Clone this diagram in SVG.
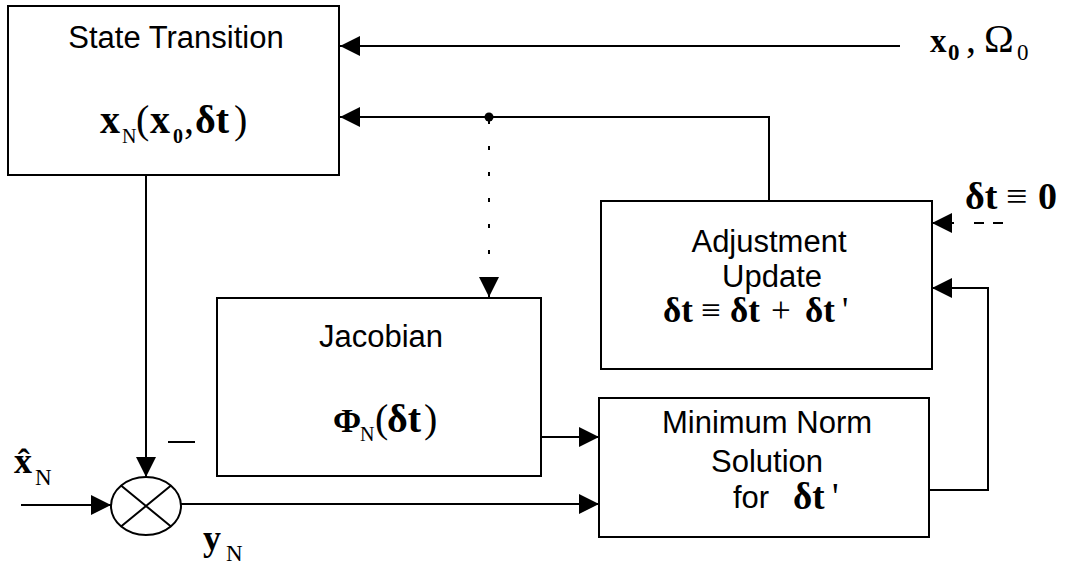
<svg xmlns="http://www.w3.org/2000/svg" width="1069" height="568" viewBox="0 0 1069 568">
<defs>
<style>
.box{fill:#fff;stroke:#000;stroke-width:2}
.ln{fill:none;stroke:#000;stroke-width:2}
.lbl{font-family:"Liberation Sans",Arial,sans-serif;font-size:31px;fill:#000;text-anchor:middle}
.m{font-family:"Liberation Serif","Times New Roman",serif;font-size:40px;fill:#000}
.b{font-weight:bold}
.s{font-size:20px}
</style>
<marker id="ah" viewBox="0 0 20 20" refX="20" refY="10" markerWidth="20" markerHeight="20" markerUnits="userSpaceOnUse" orient="auto">
<path d="M0,0 L20,10 L0,20 Z" fill="#000"/>
</marker>
</defs>
<rect width="1069" height="568" fill="#fff"/>

<g id="connectors">
<path class="ln" d="M900,46 H340" marker-end="url(#ah)"/>
<path class="ln" d="M769,201 V117 H340" marker-end="url(#ah)"/>
<circle cx="489" cy="117" r="4.5" fill="#000"/>
<path class="ln" d="M489,254 V118" stroke-dasharray="4 22"/>
<path class="ln" d="M489,283 V297" marker-end="url(#ah)"/>
<path class="ln" d="M146,175 V477" marker-end="url(#ah)"/>
<path class="ln" d="M21,505 H111" marker-end="url(#ah)"/>
<path class="ln" d="M181,504 H599" marker-end="url(#ah)"/>
<path class="ln" d="M541,437 H599" marker-end="url(#ah)"/>
<path class="ln" d="M929,490 H988 V288 H932" marker-end="url(#ah)"/>
<path class="ln" d="M1003,223 H966" stroke-dasharray="10 9"/>
<path class="ln" d="M954,223 H932" marker-end="url(#ah)"/>
<path class="ln" d="M168,442 H195" stroke-width="3"/>
</g>

<g id="state-transition">
<rect class="box" x="8" y="6" width="331" height="169"/>
<text class="lbl" x="176" y="48">State Transition</text>
<text class="m"><tspan class="b" x="100" y="133">x</tspan><tspan class="s" x="122" y="143">N</tspan><tspan x="136" y="133">(</tspan><tspan class="b" x="150" y="133">x</tspan><tspan class="s b" x="173" y="143">0</tspan><tspan x="184" y="133">,</tspan><tspan class="b" x="195" y="133">δt</tspan><tspan x="234" y="133">)</tspan></text>
</g>

<g id="jacobian">
<rect class="box" x="217" y="298" width="324" height="178"/>
<text class="lbl" x="381" y="347">Jacobian</text>
<text class="m"><tspan class="b" x="333" y="432" style="font-size:34px">Φ</tspan><tspan class="s" x="360" y="441">N</tspan><tspan x="375" y="432">(</tspan><tspan class="b" x="387" y="432">δt</tspan><tspan x="424" y="432">)</tspan></text>
</g>

<g id="adjustment-update">
<rect class="box" x="601" y="201" width="331" height="168"/>
<text class="lbl" x="769" y="252">Adjustment</text>
<text class="lbl" x="772" y="287">Update</text>
<text class="m" style="font-size:35px"><tspan class="b" x="663" y="322">δt</tspan><tspan x="701" y="322">≡</tspan><tspan class="b" x="730" y="322">δt</tspan><tspan x="771" y="322">+</tspan><tspan class="b" x="805" y="322">δt</tspan><tspan x="842" y="322">'</tspan></text>
</g>

<g id="minimum-norm">
<rect class="box" x="599" y="398" width="330" height="139"/>
<text class="lbl" x="767" y="433">Minimum Norm</text>
<text class="lbl" x="767" y="472">Solution</text>
<text class="lbl" x="751" y="508">for</text>
<text class="m" style="font-size:37px"><tspan class="b" x="793" y="509">δt</tspan><tspan x="832" y="509">'</tspan></text>
</g>

<g id="summing-junction">
<ellipse class="ln" cx="146" cy="506" rx="35" ry="29"/>
<path class="ln" d="M121,485.5 L171,526.5 M171,485.5 L121,526.5"/>
</g>

<g id="labels">
<text class="m"><tspan class="b" x="930" y="52" style="font-size:33px">x</tspan><tspan class="b" x="948" y="60" style="font-size:23px">0</tspan><tspan x="966" y="52">,</tspan><tspan x="984" y="52">Ω</tspan><tspan x="1017" y="60" style="font-size:23px">0</tspan></text>
<text class="m" style="font-size:38px"><tspan class="b" x="965" y="209">δt</tspan><tspan x="1006" y="209">≡</tspan><tspan class="b" x="1038" y="209">0</tspan></text>
<text class="m" style="font-size:36px"><tspan class="b" x="14" y="473">x̂</tspan><tspan x="35" y="485" style="font-size:23px">N</tspan></text>
<text class="m" style="font-size:36px"><tspan class="b" x="203" y="550">y</tspan><tspan x="226" y="561" style="font-size:23px">N</tspan></text>
</g>
</svg>
